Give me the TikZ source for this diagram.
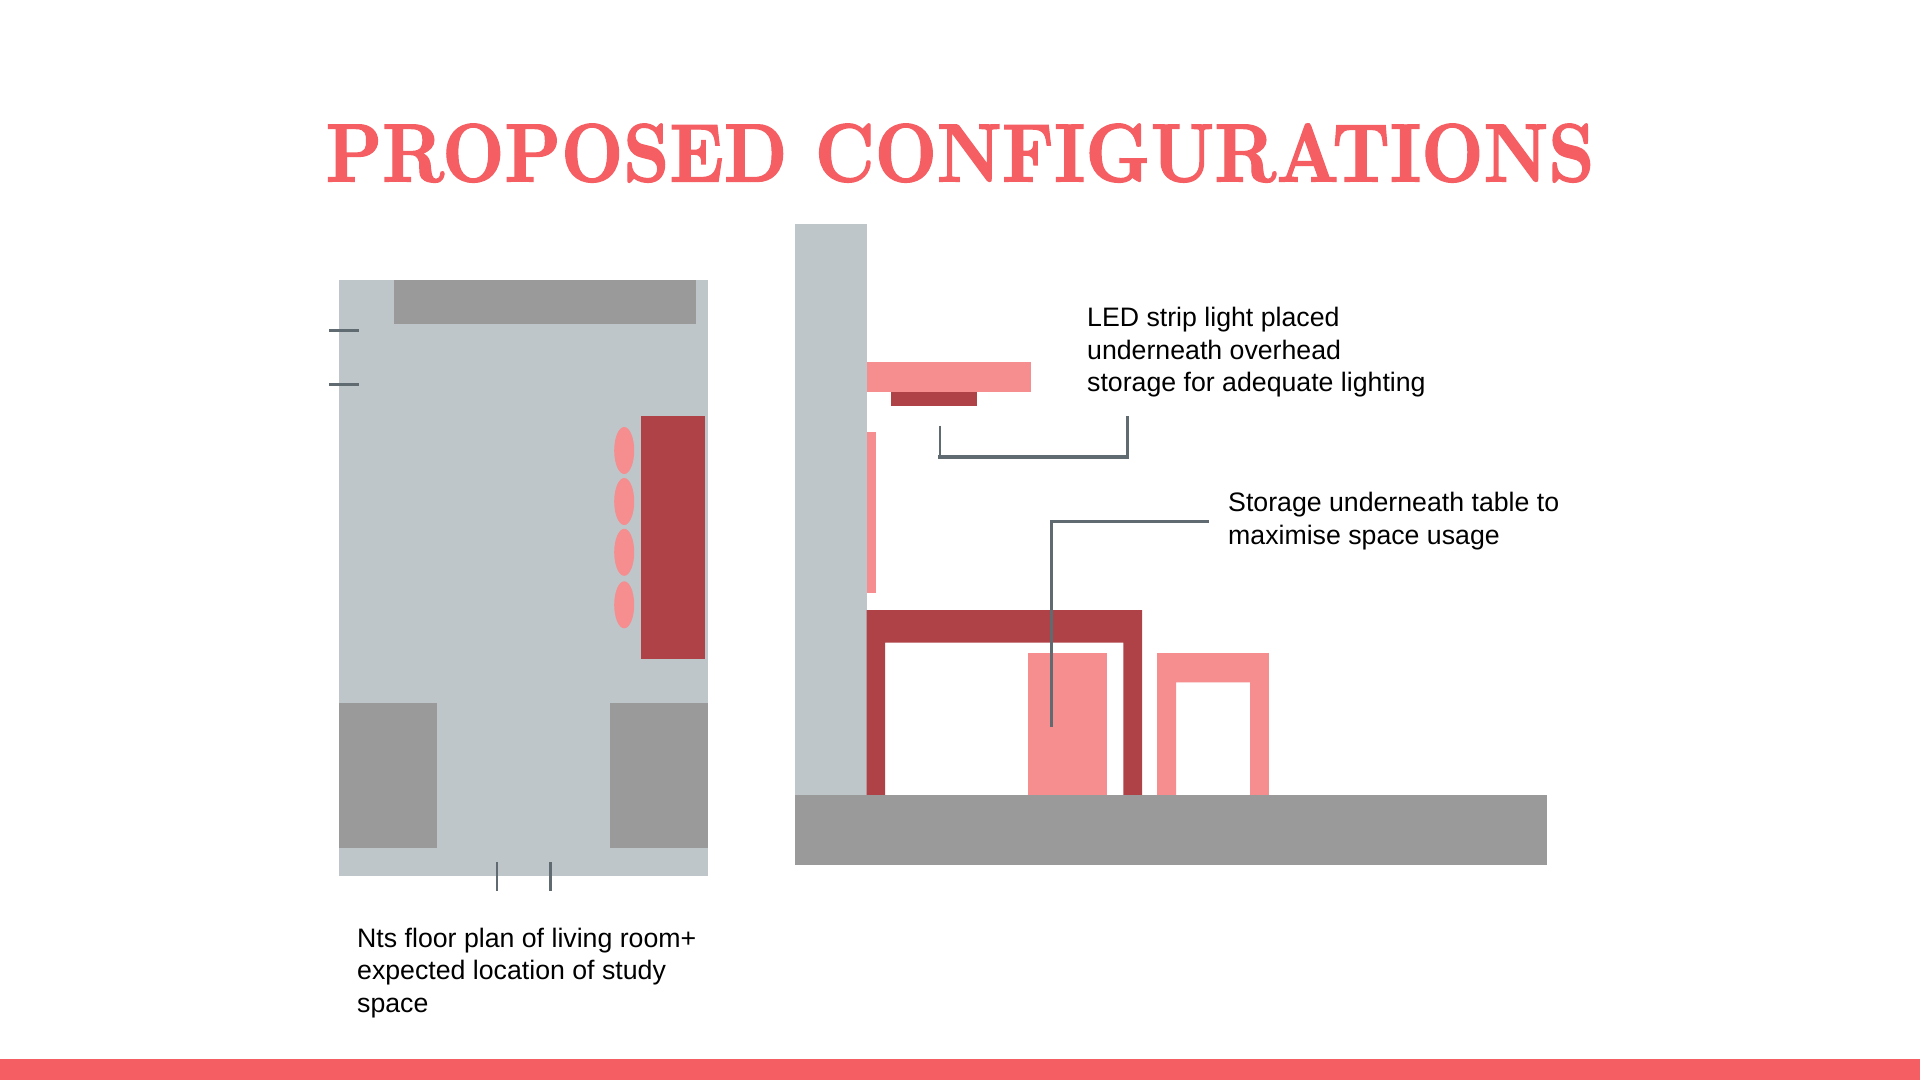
\documentclass[tikz,border=0pt]{standalone}
\usepackage{fontspec}
\setmainfont{Liberation Sans}
\newfontfamily\titlefont{lmroman10-bold.otf}[FakeBold=1.6]
\definecolor{slate}{HTML}{BEC6CA}
\definecolor{stone}{HTML}{9A9A9A}
\definecolor{rosy}{HTML}{F68D8F}
\definecolor{wine}{HTML}{AF4246}
\definecolor{coral}{HTML}{F55E62}
\definecolor{leader}{HTML}{5F6B70}
\tikzset{
  x=1bp,y=-1bp,
  wallfill/.style={fill=slate,draw=none},
  stonefill/.style={fill=stone,draw=none},
  rosyfill/.style={fill=rosy,draw=none},
  winefill/.style={fill=wine,draw=none},
  tick/.style={draw=leader,line width=2.4bp},
  leaderline/.style={draw=leader,line width=2.6bp},
  note/.style={anchor=north west,inner sep=0pt,align=left,text=black,font=\fontsize{26.7bp}{32.4bp}\selectfont},
}
\begin{document}
\begin{tikzpicture}
\useasboundingbox (0,0) rectangle (1920,1080);
\fill[white] (0,0) rectangle (1920,1080);
% title
\node[text=coral,inner sep=0pt,anchor=base] (title) at (960,181.5) {\scalebox{1}[1.15]{\resizebox{1268bp}{!}{\titlefont PROPOSED CONFIGURATIONS}}};
% bottom bar
\fill[coral] (0,1059) rectangle (1920,1080);
% plan
\fill[wallfill] (339,279.5) rectangle (708,876);
\fill[stonefill] (393.5,279.5) rectangle (696,324.3);
\fill[stonefill] (339,702.7) rectangle (436.7,848.3);
\fill[stonefill] (610.3,702.7) rectangle (708,848.3);
\fill[winefill] (641,415.7) rectangle (704.5,659);
\foreach \cy in {450.5,501.5,552.3,604.8}
  \fill[rosyfill] (624.2,\cy) ellipse [x radius=10,y radius=23.5];
\draw[tick] (329,330.3) -- (359,330.3);
\draw[tick] (329,384.3) -- (359,384.3);
\draw[tick] (496.7,862.3) -- (496.7,891.3);
\draw[tick] (550.3,862.3) -- (550.3,891.3);
% section
\fill[wallfill] (795,224.3) rectangle (867,795);
\fill[rosyfill] (867,362) rectangle (1031,392.3);
\fill[winefill] (891,391.5) rectangle (977,406);
\fill[rosyfill] (867,432) rectangle (876.3,593);
\fill[winefill] (866.7,610) -- (1142,610) -- (1142,795) -- (1123.4,795) -- (1123.4,642.7) -- (885,642.7) -- (885,795) -- (866.7,795) -- cycle;
\fill[rosyfill] (1028,653) rectangle (1106.5,795);
\fill[rosyfill] (1157,653) -- (1268.8,653) -- (1268.8,795) -- (1250,795) -- (1250,682.3) -- (1176,682.3) -- (1176,795) -- (1157,795) -- cycle;
\fill[stonefill] (794.8,795) rectangle (1547.3,864.7);
% leaders
\coordinate (ledA) at (940,425.5);
\coordinate (ledB) at (940,457);
\coordinate (ledC) at (1127.4,457);
\coordinate (ledD) at (1127.4,415.5);
\draw[leaderline] (ledA) -- (ledB);
\draw[leaderline] (ledC) -- (ledD);
\draw[leaderline,line width=3.4bp,line cap=rect] (ledB) -- (ledC);
\coordinate (stoA) at (1208.6,521.7);
\coordinate (stoB) at (1051.4,521.7);
\coordinate (stoC) at (1051.4,727.3);
\draw[leaderline] (stoA) -- (stoB) -- (stoC);
% text
\node[note] (led) at (1087,307.3) {LED strip light placed\\underneath overhead\\storage for adequate lighting};
\node[note] (sto) at (1228,492.2) {Storage underneath table to\\maximise space usage};
\node[note] (cap) at (357,928) {Nts floor plan of living room+\\expected location of study\\space};
\end{tikzpicture}
\end{document}
